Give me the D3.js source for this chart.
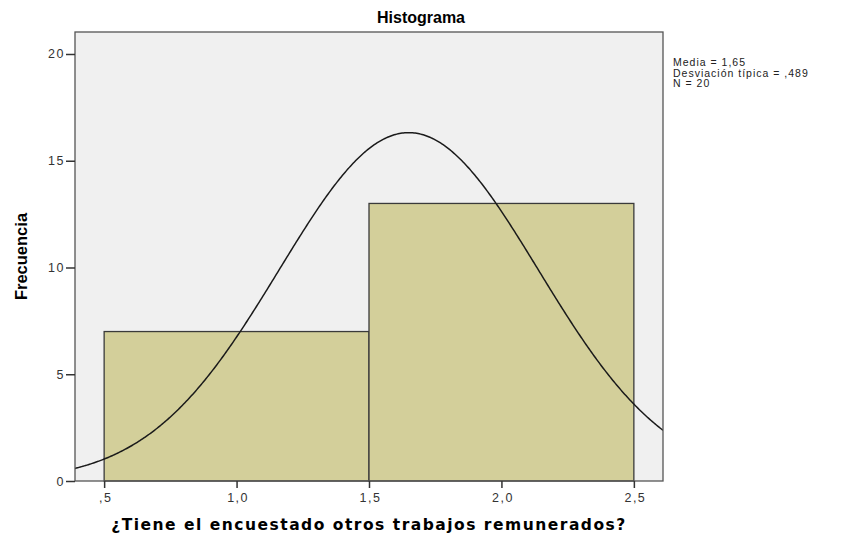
<!DOCTYPE html>
<html>
<head>
<meta charset="utf-8">
<script src="https://cdn.jsdelivr.net/npm/d3@7"></script>
<style>
  body { margin: 0; background: #fff; }
  text { font-family: "Liberation Sans", Arial, sans-serif; }
</style>
</head>
<body>
<script>
// histogram bins and counts
var binStarts = [0.5, 1.5];
var binEnds = [1.5, 2.5];
var counts = [7, 13];
// summary stats shown on the right
var statLabels = ['Media = 1,65', 'Desviación típica = ,489', 'N = 20'];
var mean = 1.65, sd = 0.489, n = 20;
var xTicks = [0.5, 1.0, 1.5, 2.0, 2.5];
var yTicks = [0, 5, 10, 15, 20];

var width = 841, height = 538;
var pLeft = 75, pRight = 663, pTop = 32, pBottom = 481;

var svg = d3.select('body').append('svg').attr('width', width).attr('height', height);

var x = d3.scaleLinear().domain([0.39, 2.61]).range([pLeft, pRight]);
var y = d3.scaleLinear().domain([0, 21.03]).range([pBottom, pTop]);

// background of plot
svg.append('rect').attr('x', pLeft).attr('y', pTop)
    .attr('width', pRight - pLeft).attr('height', pBottom - pTop)
    .attr('fill', '#f0f0f0');

svg.append('defs').append('clipPath').attr('id', 'clip')
    .append('rect').attr('x', pLeft).attr('y', pTop)
    .attr('width', pRight - pLeft).attr('height', pBottom - pTop);

// bars
svg.selectAll('rect.bar')
    .data(counts)
    .enter()
    .append('rect')
    .attr('class', 'bar')
    .attr('x', function (d, i) { return x(binStarts[i]); })
    .attr('y', function (d) { return y(d); })
    .attr('width', function (d, i) { return x(binEnds[i]) - x(binStarts[i]); })
    .attr('height', function (d) { return y(0) - y(d); })
    .attr('fill', '#d3cf9a')
    .attr('stroke', '#3a3a3a')
    .attr('stroke-width', 1.3);

// normal curve from the stats
var binW = binEnds[0] - binStarts[0];
var curve = d3.range(0.39, 2.6101, 0.005).map(function (v) {
    var z = (v - mean) / sd;
    return [v, n * binW * Math.exp(-0.5 * z * z) / (sd * Math.sqrt(2 * Math.PI))];
});
svg.append('path')
    .datum(curve)
    .attr('clip-path', 'url(#clip)')
    .attr('fill', 'none')
    .attr('stroke', '#1a1a1a')
    .attr('stroke-width', 1.5)
    .attr('d', d3.line().x(function (d) { return x(d[0]); }).y(function (d) { return y(d[1]); }));

// frame
svg.append('rect').attr('x', pLeft).attr('y', pTop)
    .attr('width', pRight - pLeft).attr('height', pBottom - pTop)
    .attr('fill', 'none').attr('stroke', '#555').attr('stroke-width', 1.3);

// axes
var yAxis = svg.append('g').attr('transform', 'translate(' + pLeft + ',0)')
    .call(d3.axisLeft(y).tickValues(yTicks).tickSize(9).tickFormat(d3.format('d')));
var xAxis = svg.append('g').attr('transform', 'translate(0,' + pBottom + ')')
    .call(d3.axisBottom(x).tickValues(xTicks).tickSize(7)
        .tickFormat(function (d) { return d.toFixed(1).replace('.', ',').replace(/^0/, ''); }));
[yAxis, xAxis].forEach(function (g) {
    g.select('.domain').remove();
    g.selectAll('line').attr('stroke', '#333').attr('stroke-width', 1.5);
    g.selectAll('text').attr('fill', '#333').style('font-size', '12.5px')
        .style('letter-spacing', '1.5px')
        .style('font-family', '"Liberation Sans", Arial, sans-serif');
});
yAxis.selectAll('text').attr('x', -10);
xAxis.selectAll('text').attr('y', 12).attr('dx', '1px');

// titles
svg.append('text').attr('x', 421).attr('y', 23).attr('text-anchor', 'middle')
    .style('font-size', '16px').style('font-weight', 'bold').text('Histograma');
svg.append('text').attr('x', (pLeft + pRight) / 2).attr('y', 530).attr('text-anchor', 'middle')
    .style('font-size', '15.5px').style('font-weight', 'bold')
    .style('letter-spacing', '1.5px')
    .style('font-family', '"DejaVu Sans", Verdana, sans-serif')
    .text('¿Tiene el encuestado otros trabajos remunerados?');
svg.append('text').attr('transform', 'translate(27,' + (pTop + pBottom) / 2 + ') rotate(-90)')
    .attr('text-anchor', 'middle')
    .style('font-size', '16.5px').style('font-weight', 'bold')
    .text('Frecuencia');

// stats block
svg.selectAll('text.stat')
    .data(statLabels)
    .enter()
    .append('text')
    .attr('class', 'stat')
    .attr('x', 673)
    .attr('y', function (d, i) { return 66 + i * 10.5; })
    .style('font-size', '10.5px')
    .style('letter-spacing', '1px')
    .attr('fill', '#222')
    .text(function (d) { return d; });
</script>
</body>
</html>
